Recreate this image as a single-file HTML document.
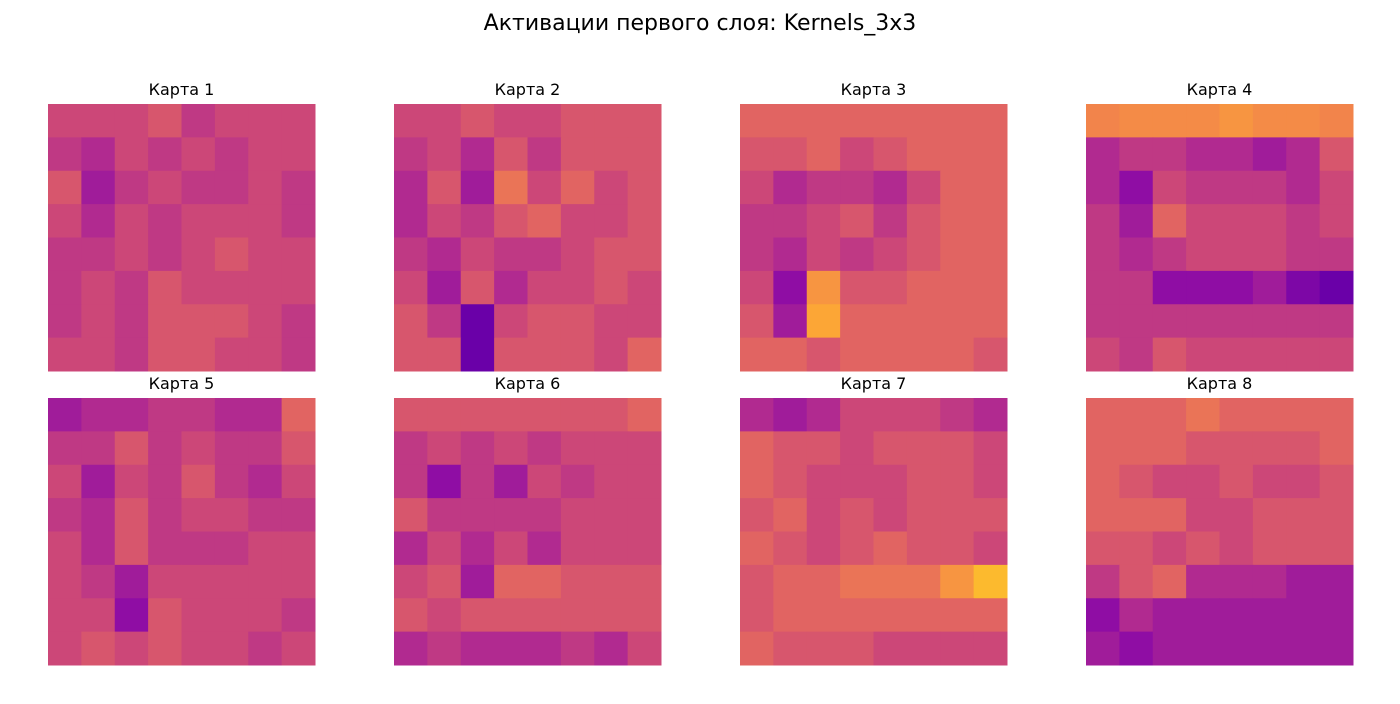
<!DOCTYPE html>
<html><head><meta charset="utf-8"><style>
body{margin:0;background:#fff;width:1400px;height:700px;overflow:hidden;font-family:"DejaVu Sans","Liberation Sans",sans-serif;}
</style></head><body>
<svg id="fig" width="1400" height="700">
<rect width="1400" height="700" fill="#fff"/>
<text x="700" y="30" text-anchor="middle" font-size="22" font-family="DejaVu Sans, sans-serif" fill="#000">Активации первого слоя: Kernels_3x3</text>
</svg>
<script>
const mapTitles=["Карта 1","Карта 2","Карта 3","Карта 4","Карта 5","Карта 6","Карта 7","Карта 8"];
const map1=[[.5,.5,.5,.55,.45,.5,.5,.5],[.45,.4,.5,.45,.5,.45,.5,.5],[.55,.35,.45,.5,.45,.45,.5,.45],[.5,.4,.5,.45,.5,.5,.5,.45],[.45,.45,.5,.45,.5,.55,.5,.5],[.45,.5,.45,.55,.5,.5,.5,.5],[.45,.5,.45,.55,.55,.55,.5,.45],[.5,.5,.45,.55,.55,.5,.5,.45]];
const map2=[[.5,.5,.55,.5,.5,.55,.55,.55],[.45,.5,.4,.55,.45,.55,.55,.55],[.4,.55,.35,.65,.5,.6,.5,.55],[.4,.5,.45,.55,.6,.5,.5,.55],[.45,.4,.5,.45,.45,.5,.55,.55],[.5,.35,.55,.4,.5,.5,.55,.5],[.55,.45,.2,.5,.55,.55,.5,.5],[.55,.55,.2,.55,.55,.55,.5,.6]];
const map3=[[.6,.6,.6,.6,.6,.6,.6,.6],[.55,.55,.6,.5,.55,.6,.6,.6],[.5,.4,.45,.45,.4,.5,.6,.6],[.45,.45,.5,.55,.45,.55,.6,.6],[.45,.4,.5,.45,.5,.55,.6,.6],[.5,.3,.75,.55,.55,.6,.6,.6],[.55,.35,.8,.6,.6,.6,.6,.6],[.6,.6,.55,.6,.6,.6,.6,.55]];
const map4=[[.7,.72,.72,.72,.75,.72,.72,.7],[.4,.45,.45,.4,.4,.35,.4,.55],[.4,.3,.5,.45,.45,.45,.4,.5],[.45,.35,.6,.5,.5,.5,.45,.5],[.45,.4,.45,.5,.5,.5,.45,.45],[.45,.45,.3,.3,.3,.35,.25,.2],[.45,.45,.45,.45,.45,.45,.45,.45],[.5,.45,.55,.5,.5,.5,.5,.5]];
const map5=[[.35,.4,.4,.45,.45,.4,.4,.6],[.45,.45,.55,.45,.5,.45,.45,.55],[.5,.35,.5,.45,.55,.45,.4,.5],[.45,.4,.55,.45,.5,.5,.45,.45],[.5,.4,.55,.45,.45,.45,.5,.5],[.5,.45,.35,.5,.5,.5,.5,.5],[.5,.5,.3,.55,.5,.5,.5,.45],[.5,.55,.5,.55,.5,.5,.45,.5]];
const map6=[[.55,.55,.55,.55,.55,.55,.55,.6],[.45,.5,.45,.5,.45,.5,.5,.5],[.45,.3,.45,.35,.5,.45,.5,.5],[.55,.45,.45,.45,.45,.5,.5,.5],[.4,.5,.4,.5,.4,.5,.5,.5],[.5,.55,.35,.6,.6,.55,.55,.55],[.55,.5,.55,.55,.55,.55,.55,.55],[.4,.45,.4,.4,.4,.45,.4,.5]];
const map7=[[.4,.35,.4,.5,.5,.5,.45,.4],[.6,.55,.55,.5,.55,.55,.55,.5],[.6,.55,.5,.5,.5,.55,.55,.5],[.55,.6,.5,.55,.5,.55,.55,.55],[.6,.55,.5,.55,.6,.55,.55,.5],[.55,.6,.6,.65,.65,.65,.75,.85],[.55,.6,.6,.6,.6,.6,.6,.6],[.6,.55,.55,.55,.5,.5,.5,.5]];
const map8=[[.6,.6,.6,.65,.6,.6,.6,.6],[.6,.6,.6,.55,.55,.55,.55,.6],[.6,.55,.5,.5,.55,.5,.5,.55],[.6,.6,.6,.5,.5,.55,.55,.55],[.55,.55,.5,.55,.5,.55,.55,.55],[.45,.55,.6,.4,.4,.4,.35,.35],[.3,.4,.35,.35,.35,.35,.35,.35],[.35,.3,.35,.35,.35,.35,.35,.35]];
const maps=[map1,map2,map3,map4,map5,map6,map7,map8];
const plasma=["#0d0887","#41049d","#6a00a8","#8f0da4","#b12a90","#cc4778","#e16462","#f2844b","#fca636","#fcce25","#f0f921"];
function hex(h){return [1,3,5].map(i=>parseInt(h.substr(i,2),16));}
function color(v){v=Math.max(0,Math.min(1,v));const t=v*10,i=Math.min(9,Math.floor(t)),f=t-i;const a=hex(plasma[i]),b=hex(plasma[i+1]);return "rgb("+a.map((x,k)=>Math.round(x+(b[k]-x)*f)).join(",")+")";}
const svg=document.getElementById("fig");const NS="http://www.w3.org/2000/svg";
const colX=[48,394,740,1086],rowY=[104,398],size=267;
maps.forEach((m,idx)=>{
  const x0=colX[idx%4],y0=rowY[Math.floor(idx/4)];
  const g=document.createElementNS(NS,"g");
  
  
  const n=m.length,cs=size/n;
  m.forEach((row,r)=>row.forEach((v,c)=>{
    const rc=document.createElementNS(NS,"rect");
    rc.setAttribute("x",x0+c*cs);rc.setAttribute("y",y0+r*cs);
    rc.setAttribute("width",cs+0.5);rc.setAttribute("height",cs+0.5);
    rc.setAttribute("fill",color(v));
    
    
    g.appendChild(rc);
  }));
  svg.appendChild(g);
  const t=document.createElementNS(NS,"text");
  t.setAttribute("x",x0+size/2);t.setAttribute("y",y0-9);
  t.setAttribute("text-anchor","middle");t.setAttribute("font-size","16");
  t.setAttribute("font-family","DejaVu Sans, sans-serif");
  t.textContent=mapTitles[idx];
  
  
  svg.appendChild(t);
});
</script>
</body></html>
